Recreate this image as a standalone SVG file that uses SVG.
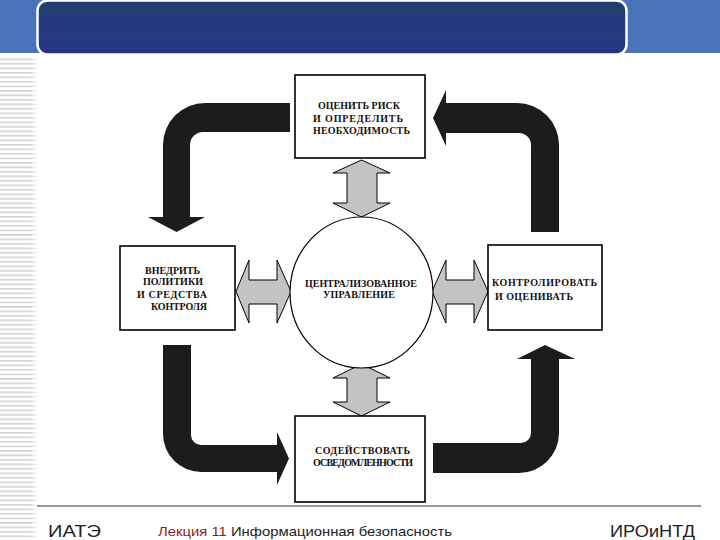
<svg xmlns="http://www.w3.org/2000/svg" width="720" height="540" viewBox="0 0 720 540">
<style>
.box{fill:#fff;stroke:#000;stroke-width:1.6}
.circ{fill:#fff;stroke:#000;stroke-width:1.2}
.lbl{font-family:"Liberation Serif","DejaVu Serif",serif;font-weight:bold;font-size:10px;fill:#111}
.blk{fill:#1c1c1c;stroke:none}
.gry{fill:#c3c3c3;stroke:#000;stroke-width:1}
.foot{font-family:"Liberation Sans",Arial,sans-serif;fill:#222}
</style>
<defs>
<linearGradient id="bn" x1="0" y1="0" x2="0" y2="1">
<stop offset="0" stop-color="#213f6b"/>
<stop offset="0.22" stop-color="#22406e"/>
<stop offset="0.3" stop-color="#25397f"/>
<stop offset="1" stop-color="#263885"/>
</linearGradient>
<pattern id="stripes" x="0" y="0" width="40" height="4.5" patternUnits="userSpaceOnUse">
<rect x="0" y="0" width="40" height="1.6" fill="#d2d2d2"/>
</pattern>
<linearGradient id="fade" x1="0" y1="0" x2="1" y2="0">
<stop offset="0" stop-color="#fff" stop-opacity="0"/>
<stop offset="0.8" stop-color="#fff" stop-opacity="0"/>
<stop offset="1" stop-color="#fff" stop-opacity="1"/>
</linearGradient>
</defs>
<rect width="720" height="540" fill="#fff"/>
<g id="background">
<rect x="0" y="0" width="720" height="53" fill="#4a72b8"/>
<rect x="0" y="56" width="38" height="484" fill="url(#stripes)"/>
<rect x="0" y="56" width="38" height="484" fill="url(#fade)"/>
<rect x="37.5" y="0.5" width="589" height="54" rx="10" fill="url(#bn)" stroke="#fff" stroke-width="2.5"/>
<line x1="37" y1="506" x2="701" y2="506" stroke="#333" stroke-width="1.2"/>
</g>
<g id="connectors">
<path class="blk" d="M290 103 L205 103 A42 42 0 0 0 163 145 L163 217 L148 217 L176.5 232 L205 217 L190 217 L190 145 A13 13 0 0 1 203 132 L290 132 Z"/>
<path class="blk" d="M433 118 L446 90 L446 103 L517 103 A42 42 0 0 1 559 145 L559 232 L531 232 L531 145 A12 12 0 0 0 519 133 L446 133 L446 146 Z"/>
<path class="blk" d="M163 345 L191 345 L191 435 A10 10 0 0 0 201 445 L277 445 L277 432 L289 458.5 L277 485 L277 472 L201 472 A38 38 0 0 1 163 434 Z"/>
<path class="blk" d="M433 443 L521 443 A10 10 0 0 0 531 433 L531 359 L517 359 L545 345 L575 359 L559 359 L559 433 A40 40 0 0 1 519 473 L433 473 Z"/>
<polygon class="gry" points="361.5,160 390,173 377,173 377,203 390,203 361.5,217 333,203 347,203 347,173 333,173"/>
<polygon class="gry" points="361.5,364 390,378 377,378 377,402 390,402 361.5,416 333,402 347,402 347,378 333,378"/>
<polygon class="gry" points="236,291.5 249,260 249,280 277,280 277,260 291,291.5 277,323 277,304 249,304 249,323"/>
<polygon class="gry" points="432,291.5 446,260 446,280 474,280 474,260 488,291.5 474,323 474,304 446,304 446,323"/>
</g>
<g id="node-top">
<rect class="box" x="295" y="75" width="130" height="83"/>
<text class="lbl" x="318" y="108.5" textLength="82" lengthAdjust="spacing">ОЦЕНИТЬ РИСК</text>
<text class="lbl" x="313" y="121.5" textLength="90" lengthAdjust="spacing">И ОПРЕДЕЛИТЬ</text>
<text class="lbl" x="313" y="133.5" textLength="97" lengthAdjust="spacing">НЕОБХОДИМОСТЬ</text>
</g>
<g id="node-left">
<rect class="box" x="120" y="246" width="115" height="84"/>
<text class="lbl" x="145" y="273.5" textLength="55" lengthAdjust="spacing">ВНЕДРИТЬ</text>
<text class="lbl" x="143" y="284.5" textLength="60" lengthAdjust="spacing">ПОЛИТИКИ</text>
<text class="lbl" x="137" y="297.5" textLength="70" lengthAdjust="spacing">И СРЕДСТВА</text>
<text class="lbl" x="151" y="309.5" textLength="56" lengthAdjust="spacing">КОНТРОЛЯ</text>
</g>
<g id="node-center">
<ellipse class="circ" cx="361.5" cy="292.5" rx="71.5" ry="75.5"/>
<text class="lbl" x="305" y="286.5" textLength="112" lengthAdjust="spacing">ЦЕНТРАЛИЗОВАННОЕ</text>
<text class="lbl" x="323" y="297.5" textLength="72" lengthAdjust="spacing">УПРАВЛЕНИЕ</text>
</g>
<g id="node-right">
<rect class="box" x="488" y="245" width="114" height="85"/>
<text class="lbl" x="492" y="285.5" textLength="105" lengthAdjust="spacing">КОНТРОЛИРОВАТЬ</text>
<text class="lbl" x="495" y="299.5" textLength="78" lengthAdjust="spacing">И ОЦЕНИВАТЬ</text>
</g>
<g id="node-bottom">
<rect class="box" x="295" y="416" width="130" height="86"/>
<text class="lbl" x="315" y="453.5" textLength="95" lengthAdjust="spacing">СОДЕЙСТВОВАТЬ</text>
<text class="lbl" x="313" y="465.5" textLength="100" lengthAdjust="spacing">ОСВЕДОМЛЕННОСТИ</text>
</g>
<g id="footer">
<text class="foot" x="48" y="537" font-size="17" textLength="53" lengthAdjust="spacingAndGlyphs">ИАТЭ</text>
<text class="foot" x="158" y="536" font-size="13.5" textLength="294" lengthAdjust="spacingAndGlyphs"><tspan fill="#8c1c1c">Лекция  11 </tspan>Информационная безопасность</text>
<text class="foot" x="610" y="537" font-size="17" textLength="85" lengthAdjust="spacingAndGlyphs">ИРОиНТД</text>
</g>
</svg>
